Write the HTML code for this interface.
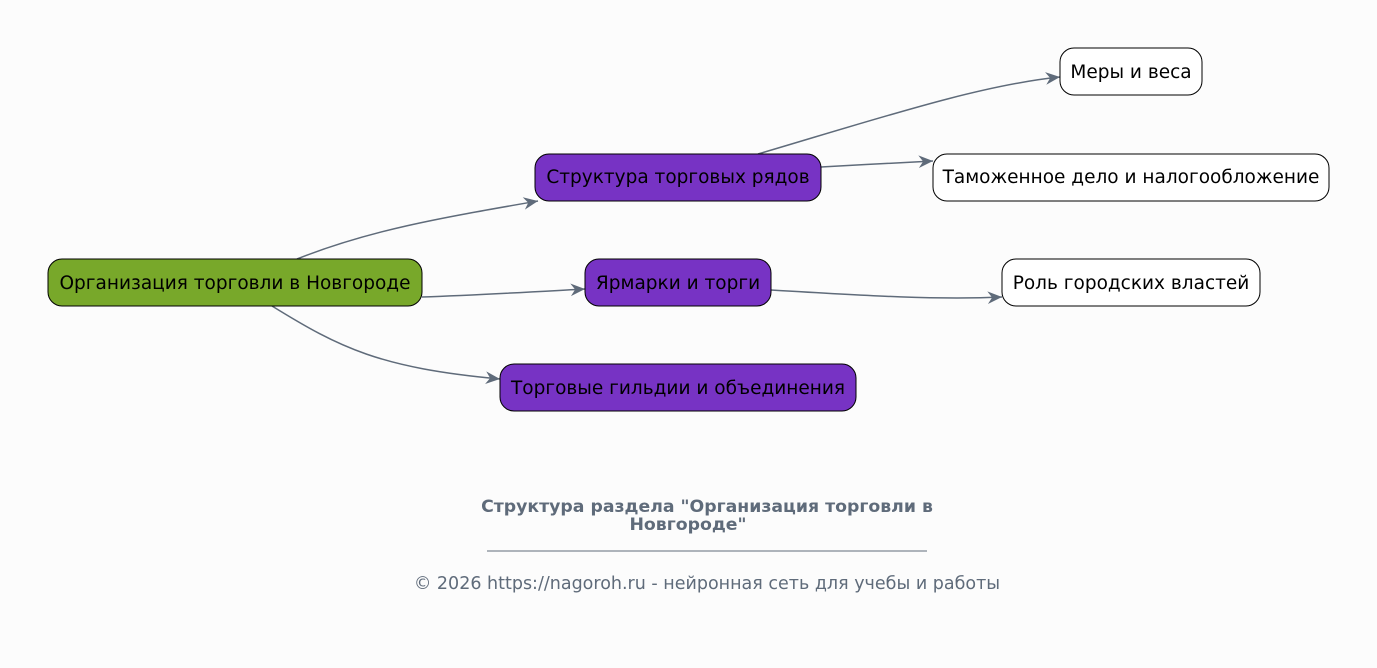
<!DOCTYPE html>
<html><head><meta charset="utf-8"><style>
html,body{margin:0;padding:0;background:#fcfcfc;}
svg{display:block;}
text{font-family:"DejaVu Sans","Liberation Sans",sans-serif;}
</style></head><body>
<svg width="1377" height="668" viewBox="0 0 1377 668" xmlns="http://www.w3.org/2000/svg">
<rect width="1377" height="668" fill="#fcfcfc"/>
<defs>
<marker id="a" viewBox="0 0 20 20" refX="18" refY="10" markerWidth="18" markerHeight="18" markerUnits="userSpaceOnUse" orient="auto">
<path d="M2,3 L18,10 L2,17 L7,10 Z" fill="#5f6b7a"/>
</marker>
</defs>
<g fill="none" stroke="#5f6b7a" stroke-width="1.5" marker-end="url(#a)">
<path d="M297,259 C370,230 440,218 538,201"/>
<path d="M422,297 C480,295 530,292 585,289"/>
<path d="M272,306 C340,348 380,368 500,379"/>
<path d="M758,154 C880,118 980,85 1060,77"/>
<path d="M821,167 C860,165 890,163 933,161"/>
<path d="M771,290 C870,296 940,300 1002,297"/>
</g>
<g stroke="#000" stroke-width="1">
<rect x="48" y="259" width="374" height="47" rx="14" fill="#78a82a"/>
<rect x="535" y="154" width="286" height="47" rx="14" fill="#7733c4"/>
<rect x="585" y="259" width="186" height="47" rx="14" fill="#7733c4"/>
<rect x="500" y="364" width="356" height="47" rx="14" fill="#7733c4"/>
<rect x="1060" y="48" width="142" height="47" rx="14" fill="#fff"/>
<rect x="933" y="154" width="396" height="47" rx="14" fill="#fff"/>
<rect x="1002" y="259" width="258" height="47" rx="14" fill="#fff"/>
</g>
<g font-size="18.5" fill="#000" text-anchor="middle">
<text x="235" y="289">Организация торговли в Новгороде</text>
<text x="678" y="183">Структура торговых рядов</text>
<text x="678" y="289">Ярмарки и торги</text>
<text x="678" y="394">Торговые гильдии и объединения</text>
<text x="1131" y="78">Меры и веса</text>
<text x="1131" y="183">Таможенное дело и налогообложение</text>
<text x="1131" y="289">Роль городских властей</text>
</g>
<g fill="#5f6b7a" text-anchor="middle">
<text x="707" y="512" font-size="17.3" font-weight="bold">Структура раздела "Организация торговли в</text>
<text x="688" y="530" font-size="17.3" font-weight="bold">Новгороде"</text>
<line x1="487" y1="551" x2="927" y2="551" stroke="#5f6b7a" stroke-width="1"/>
<text x="707" y="589" font-size="17.5">© 2026 https://nagoroh.ru - нейронная сеть для учебы и работы</text>
</g>
</svg>
</body></html>
